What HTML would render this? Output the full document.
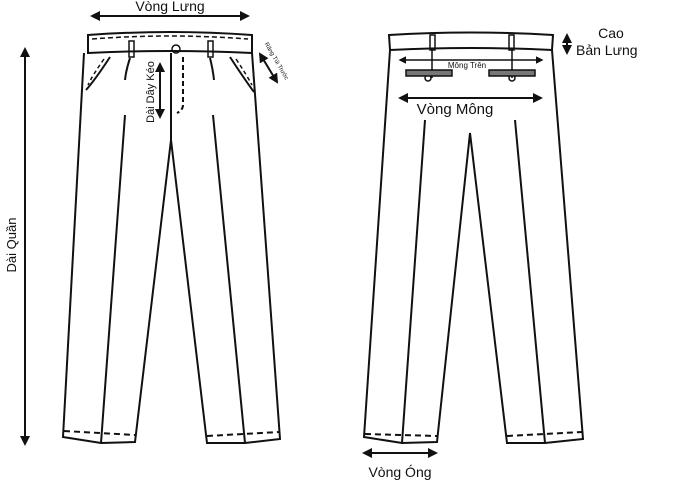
<!DOCTYPE html>
<html><head><meta charset="utf-8"><style>
html,body{margin:0;padding:0;background:#fff;width:680px;height:480px;overflow:hidden}
svg{display:block}
text{font-family:"Liberation Sans",sans-serif;fill:#111}
</style></head><body>
<svg width="680" height="480" viewBox="0 0 680 480" xmlns="http://www.w3.org/2000/svg">
<defs>
<marker id="a" viewBox="0 0 10 10" refX="8" refY="5" markerWidth="5" markerHeight="5" orient="auto-start-reverse"><path d="M0,0L10,5L0,10z" fill="#111"/></marker>
</defs>
<g stroke="#111" fill="none" stroke-width="2">
<!-- FRONT -->
<path d="M88,35 Q170,29 252,35 L252,53 Q170,49 88,53 Z"/>
<path d="M92,39 Q170,33 248,39" stroke-dasharray="5,3" stroke-width="1.5"/>
<rect x="129" y="41" width="5" height="16" stroke-width="1.5"/>
<rect x="208" y="41" width="5" height="16" stroke-width="1.5"/>
<circle cx="176" cy="49" r="4" stroke-width="1.5"/>
<path d="M84,53 L63,437 L101,443 L135,442 L171,140 L207,443 L245,443 L280,439 L252,53"/>
<path d="M171,53 L171,140"/>
<path d="M183,57 L183,105 Q183,110 177,113" stroke-dasharray="5,3"/>
<path d="M110,57 Q95,80 86,90"/><path d="M104,59 Q92,76 88,85" stroke-dasharray="4,3" stroke-width="1.5"/>
<path d="M230,57 Q245,80 254,92"/><path d="M236,59 Q246,74 252,85" stroke-dasharray="4,3" stroke-width="1.5"/>
<path d="M130,58 Q126,70 125,80"/><path d="M210,58 Q213,70 214,80"/>
<path d="M125,115 L101,443"/><path d="M213,115 L245,443"/>
<path d="M64,431 L135,435" stroke-dasharray="6,4"/><path d="M207,436 L279,432" stroke-dasharray="6,4"/>
<!-- BACK -->
<path d="M389,35 Q471,30 553,35 L552,50 Q471,46 390,50 Z"/>
<rect x="430" y="35" width="5" height="15" stroke-width="1.5"/>
<rect x="509" y="35" width="5" height="15" stroke-width="1.5"/>
<path d="M432,50 L432,78 M512,50 L512,78" stroke-width="1.5"/>
<circle cx="428" cy="78" r="3" stroke-width="1.5"/><circle cx="512" cy="78" r="3" stroke-width="1.5"/>
<path d="M390,50 L364,437 L402,443 L437,442 L470,133 L507,443 L545,443 L583,439 L552,50"/>
<path d="M425,120 L402,443"/><path d="M515,120 L545,443"/>
<path d="M365,434 L437,436" stroke-dasharray="6,4"/><path d="M507,436 L582,432" stroke-dasharray="6,4"/>
</g>
<rect x="406" y="70" width="46" height="6" fill="#777" stroke="#111" stroke-width="1.5"/>
<rect x="489" y="70" width="46" height="6" fill="#777" stroke="#111" stroke-width="1.5"/>
<g stroke="#111" stroke-width="2" fill="none" marker-start="url(#a)" marker-end="url(#a)">
<line x1="92" y1="16" x2="248" y2="16"/>
<line x1="25" y1="49" x2="25" y2="444"/>
<line x1="160" y1="64" x2="160" y2="117"/>
<line x1="260" y1="54" x2="277" y2="82"/>
<line x1="400" y1="60" x2="542" y2="60" stroke-width="1.5"/>
<line x1="400" y1="98" x2="541" y2="98"/>
<line x1="567" y1="35" x2="567" y2="53"/>
<line x1="364" y1="453" x2="436" y2="453"/>
</g>
<text x="170" y="11" font-size="14" text-anchor="middle">Vòng Lưng</text>
<text transform="translate(16,245) rotate(-90)" font-size="13" text-anchor="middle">Dài Quần</text>
<text transform="translate(154,92) rotate(-90)" font-size="11" text-anchor="middle">Dài Dây Kéo</text>
<text transform="translate(275,62) rotate(60)" font-size="6" text-anchor="middle">Răng Túi Trước</text>
<text x="467" y="68" font-size="8" text-anchor="middle">Mông Trên</text>
<text x="455" y="114" font-size="15" text-anchor="middle">Vòng Mông</text>
<text x="611" y="38" font-size="14" text-anchor="middle">Cao</text>
<text x="576" y="55" font-size="14">Bản Lưng</text>
<text x="400" y="477" font-size="14" text-anchor="middle">Vòng Óng</text>
</svg>
</body></html>
